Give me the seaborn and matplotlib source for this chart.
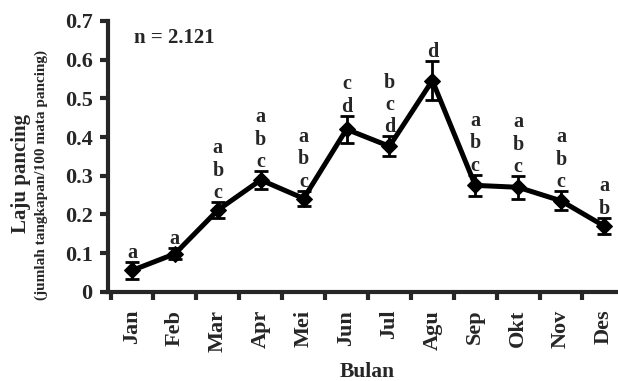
import numpy as np
import pandas as pd
import matplotlib
matplotlib.use("Agg")
import matplotlib.pyplot as plt
import seaborn as sns
from matplotlib.ticker import FixedLocator

# data
bulan = ["Jan", "Feb", "Mar", "Apr", "Mei", "Jun", "Jul", "Agu", "Sep", "Okt", "Nov", "Des"]
laju = [0.055, 0.098, 0.211, 0.289, 0.241, 0.420, 0.376, 0.546, 0.275, 0.270, 0.235, 0.170]
galat = [0.021, 0.014, 0.021, 0.023, 0.020, 0.035, 0.026, 0.050, 0.027, 0.029, 0.025, 0.021]
huruf = ["a", "a", "a\nb\nc", "a\nb\nc", "a\nb\nc", "c\nd", "b\nc\nd", "d",
         "a\nb\nc", "a\nb\nc", "a\nb\nc", "a\nb"]

df = pd.DataFrame({"idx": np.arange(len(bulan)), "laju": laju})

sns.set_style("ticks")
plt.rcParams["font.family"] = ["Liberation Serif", "DejaVu Serif"]
plt.rcParams["font.weight"] = "bold"

fig = plt.figure(figsize=(6.18, 3.81), dpi=100)
ax = fig.add_axes([108 / 618, (381 - 291.7) / 381, 517.4 / 618, 270.7 / 381])

ax.errorbar(df["idx"], df["laju"], yerr=galat, fmt="none", ecolor="black",
            elinewidth=2, capsize=5, capthick=2, zorder=2)
sns.lineplot(data=df, x="idx", y="laju", ax=ax, color="black", linewidth=3.6,
             marker="D", markersize=8, markeredgecolor="black", zorder=3)

for i, s in enumerate(huruf):
    ax.text(i, laju[i] + galat[i] - 0.002, s, ha="center", va="bottom",
            fontsize=14.5, fontweight="bold", linespacing=1.15)

ax.text(0.05, 0.655, "n = 2.121", fontsize=15, fontweight="bold", va="center")

ax.set_xlim(-0.56, 11.5)
ax.set_ylim(0, 0.7)
ax.set_yticks(np.arange(0, 0.71, 0.1))
ax.set_yticklabels(["0"] + [f"{v:.1f}" for v in np.arange(0.1, 0.71, 0.1)])
ax.set_xticks(range(len(bulan)))
ax.set_xticklabels(bulan, rotation=90)
ax.xaxis.set_minor_locator(FixedLocator(np.arange(-0.5, 11.6, 1.0)))
ax.tick_params(axis="x", which="major", length=0, pad=13, labelsize=16)
ax.tick_params(axis="x", which="minor", length=6, width=3, direction="out")
ax.tick_params(axis="y", length=6, width=3, direction="out", labelsize=16, pad=5)
for lab in ax.get_xticklabels() + ax.get_yticklabels():
    lab.set_fontweight("bold")

sns.despine(ax=ax)
ax.spines["left"].set_linewidth(3)
ax.spines["bottom"].set_linewidth(3)
ax.set_xlabel("")
ax.set_ylabel("")

fig.text(367 / 618, 1 - 372 / 381, "Bulan", ha="center", va="center",
         fontsize=15.5, fontweight="bold")
fig.text(21 / 618, 1 - 173 / 381, "Laju pancing", rotation=90, ha="center",
         va="center", fontsize=15, fontweight="bold")
fig.text(41 / 618, 1 - 175 / 381, "(jumlah tangkapan/100 mata pancing)",
         rotation=90, ha="center", va="center", fontsize=11, fontweight="bold")

fig.savefig("out.png", dpi=100)
